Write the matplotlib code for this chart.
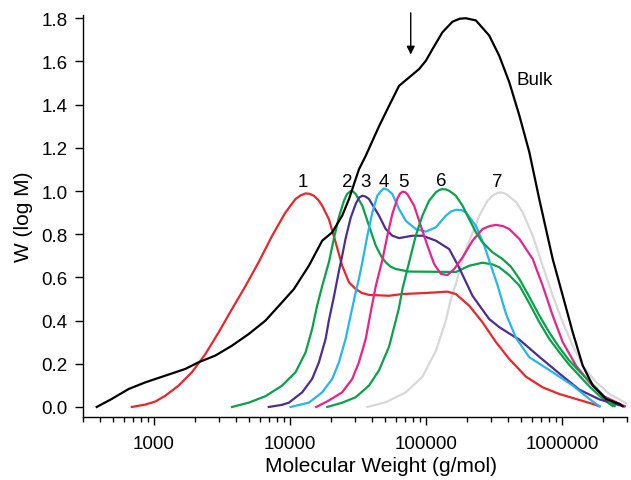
import matplotlib
matplotlib.use("Agg")
import matplotlib.pyplot as plt
from matplotlib.ticker import FixedLocator, LogLocator, NullFormatter, FuncFormatter
import numpy as np

plt.rcParams["font.family"] = ["Liberation Sans", "DejaVu Sans"]

# --------------------------------------------------------------------------- #
# data: log10(M) and W(log M)
# --------------------------------------------------------------------------- #
bulk_logm = [2.580, 2.690, 2.814, 2.937, 3.084, 3.231, 3.329, 3.452, 3.575, 3.698,
             3.821, 3.943, 4.030, 4.140, 4.238, 4.312, 4.385, 4.435, 4.508, 4.558,
             4.656, 4.730, 4.803, 4.877, 4.951, 5.000, 5.049, 5.122, 5.196, 5.250,
             5.295, 5.368, 5.466, 5.540, 5.614, 5.688, 5.761, 5.835, 5.933, 6.007,
             6.080, 6.154, 6.228, 6.326, 6.424, 6.449]
bulk_w = [0.000, 0.037, 0.083, 0.114, 0.145, 0.176, 0.207, 0.238, 0.284, 0.338,
          0.400, 0.485, 0.546, 0.654, 0.770, 0.809, 0.886, 0.963, 1.100, 1.163,
          1.300, 1.395, 1.487, 1.526, 1.565, 1.603, 1.657, 1.735, 1.784, 1.798,
          1.800, 1.790, 1.720, 1.626, 1.503, 1.349, 1.180, 0.960, 0.685, 0.515,
          0.346, 0.191, 0.099, 0.037, 0.014, 0.003]

f1_logm = [2.838, 2.937, 3.010, 3.084, 3.182, 3.280, 3.379, 3.477, 3.575, 3.674,
           3.772, 3.870, 3.968, 4.042, 4.080, 4.116, 4.145, 4.177, 4.210, 4.238,
           4.287, 4.337, 4.385, 4.435, 4.484, 4.530, 4.582, 4.730, 4.828, 5.000,
           5.159, 5.221, 5.319, 5.417, 5.516, 5.614, 5.737, 5.859, 5.982, 6.105,
           6.228, 6.277]
f1_w = [0.000, 0.011, 0.025, 0.052, 0.099, 0.161, 0.245, 0.346, 0.454, 0.560,
        0.672, 0.793, 0.901, 0.963, 0.980, 0.989, 0.987, 0.978, 0.958, 0.932,
        0.870, 0.762, 0.654, 0.577, 0.546, 0.528, 0.519, 0.515, 0.523, 0.528,
        0.534, 0.523, 0.469, 0.392, 0.300, 0.222, 0.140, 0.091, 0.060, 0.037,
        0.014, 0.003]

f2_logm = [3.575, 3.698, 3.821, 3.943, 4.042, 4.116, 4.164, 4.201, 4.238, 4.287,
           4.324, 4.361, 4.398, 4.420, 4.447, 4.465, 4.484, 4.533, 4.582, 4.632,
           4.670, 4.705, 4.740, 4.779, 4.877, 5.074, 5.221, 5.319, 5.417, 5.491,
           5.540, 5.614, 5.688, 5.761, 5.835, 5.908, 5.982, 6.055, 6.129, 6.203,
           6.277, 6.351, 6.375]
f2_w = [0.000, 0.020, 0.050, 0.099, 0.161, 0.253, 0.361, 0.470, 0.560, 0.670,
        0.780, 0.880, 0.955, 0.985, 1.000, 0.998, 0.986, 0.932, 0.839, 0.747,
        0.700, 0.670, 0.650, 0.639, 0.627, 0.626, 0.625, 0.654, 0.668, 0.660,
        0.647, 0.610, 0.562, 0.480, 0.392, 0.315, 0.253, 0.195, 0.145, 0.095,
        0.052, 0.014, 0.004]

f3_logm = [3.845, 3.943, 3.993, 4.091, 4.164, 4.214, 4.263, 4.287, 4.324, 4.361,
           4.385, 4.410, 4.447, 4.484, 4.510, 4.533, 4.555, 4.582, 4.656, 4.705,
           4.754, 4.803, 4.901, 4.975, 5.074, 5.172, 5.245, 5.343, 5.466, 5.540,
           5.614, 5.688, 5.835, 5.982, 6.129, 6.277, 6.424, 6.461]
f3_w = [0.000, 0.010, 0.020, 0.068, 0.130, 0.207, 0.315, 0.400, 0.510, 0.630,
        0.700, 0.780, 0.875, 0.940, 0.970, 0.978, 0.975, 0.963, 0.886, 0.824,
        0.793, 0.782, 0.793, 0.793, 0.770, 0.731, 0.645, 0.515, 0.407, 0.370,
        0.340, 0.312, 0.232, 0.155, 0.080, 0.035, 0.008, 0.004]

f4_logm = [4.005, 4.140, 4.238, 4.312, 4.361, 4.410, 4.447, 4.484, 4.508, 4.533,
           4.570, 4.607, 4.643, 4.670, 4.693, 4.720, 4.754, 4.803, 4.853, 4.926,
           5.000, 5.074, 5.147, 5.185, 5.221, 5.260, 5.295, 5.368, 5.430, 5.479,
           5.528, 5.590, 5.663, 5.761, 5.933, 6.080, 6.203, 6.277]
f4_w = [0.000, 0.020, 0.068, 0.130, 0.207, 0.315, 0.423, 0.531, 0.593, 0.670,
        0.793, 0.901, 0.978, 1.000, 1.012, 1.005, 0.986, 0.917, 0.862, 0.824,
        0.812, 0.832, 0.886, 0.905, 0.913, 0.912, 0.901, 0.839, 0.747, 0.654,
        0.562, 0.430, 0.320, 0.230, 0.161, 0.099, 0.037, 0.003]

f5_logm = [4.194, 4.287, 4.385, 4.459, 4.508, 4.558, 4.595, 4.632, 4.680, 4.717,
           4.754, 4.791, 4.810, 4.828, 4.846, 4.864, 4.914, 4.963, 5.012, 5.061,
           5.111, 5.159, 5.209, 5.270, 5.343, 5.417, 5.470, 5.516, 5.565, 5.614,
           5.688, 5.786, 5.859, 5.933, 6.007, 6.105, 6.203, 6.302, 6.400, 6.461]
f5_w = [0.000, 0.030, 0.068, 0.130, 0.207, 0.315, 0.440, 0.560, 0.680, 0.793,
        0.895, 0.965, 0.988, 0.997, 0.995, 0.986, 0.932, 0.839, 0.747, 0.662,
        0.616, 0.611, 0.639, 0.693, 0.770, 0.824, 0.838, 0.843, 0.838, 0.824,
        0.778, 0.685, 0.562, 0.423, 0.300, 0.191, 0.114, 0.052, 0.022, 0.003]

f6_logm = [4.275, 4.385, 4.484, 4.582, 4.656, 4.730, 4.779, 4.803, 4.828, 4.877,
           4.926, 4.975, 5.024, 5.074, 5.100, 5.122, 5.150, 5.172, 5.221, 5.270,
           5.319, 5.368, 5.417, 5.491, 5.564, 5.625, 5.688, 5.761, 5.835, 5.908,
           5.982, 6.055, 6.129, 6.203, 6.277, 6.351, 6.389]
f6_w = [0.000, 0.020, 0.045, 0.099, 0.170, 0.280, 0.400, 0.460, 0.546, 0.670,
        0.793, 0.886, 0.955, 0.994, 1.005, 1.009, 1.007, 1.001, 0.978, 0.932,
        0.870, 0.809, 0.762, 0.716, 0.685, 0.650, 0.593, 0.510, 0.423, 0.345,
        0.275, 0.215, 0.165, 0.120, 0.072, 0.022, 0.004]

f7_logm = [4.570, 4.705, 4.853, 4.975, 5.074, 5.147, 5.184, 5.221, 5.270, 5.307,
           5.343, 5.393, 5.454, 5.490, 5.528, 5.560, 5.590, 5.663, 5.712, 5.786,
           5.859, 5.933, 6.007, 6.080, 6.154, 6.253, 6.351, 6.474]
f7_w = [0.000, 0.022, 0.068, 0.140, 0.260, 0.400, 0.500, 0.570, 0.680, 0.750,
        0.805, 0.886, 0.955, 0.978, 0.992, 0.993, 0.986, 0.950, 0.901, 0.793,
        0.654, 0.515, 0.392, 0.284, 0.191, 0.114, 0.060, 0.017]

fraction_labels = ["1", "2", "3", "4", "5", "6", "7"]
label_logm = [4.097, 4.420, 4.560, 4.693, 4.833, 5.113, 5.525]
label_w = [1.045, 1.045, 1.045, 1.045, 1.045, 1.050, 1.045]

arrow_logm = 4.889
arrow_w_from, arrow_w_to = 1.825, 1.632

# --------------------------------------------------------------------------- #
# colors
# --------------------------------------------------------------------------- #
COLOR_BULK = "#000000"
COLORS = ["#E8262C", "#0AA14A", "#4B2F8E", "#27B5EC", "#E8238A", "#0AA14A", "#D8D8D8"]

fig = plt.figure(figsize=(6.31, 4.81), dpi=100)
ax = fig.add_axes([0.1311, 0.1316, 0.8621, 0.8351])

series = [(f1_logm, f1_w), (f2_logm, f2_w), (f3_logm, f3_w), (f4_logm, f4_w),
          (f5_logm, f5_w), (f6_logm, f6_w), (f7_logm, f7_w)]
# gray first so it sits underneath
order = [6, 0, 1, 2, 3, 4, 5]
for i in order:
    lm, w = series[i]
    ax.plot(10 ** np.array(lm), w, color=COLORS[i], lw=1.6, solid_joinstyle="round")
ax.plot(10 ** np.array(bulk_logm), bulk_w, color=COLOR_BULK, lw=1.6,
        solid_joinstyle="round")

ax.set_xscale("log")
ax.set_xlim(300, 3e6)
ax.set_ylim(-0.045, 1.815)

ax.xaxis.set_major_locator(FixedLocator([1e3, 1e4, 1e5, 1e6]))
ax.xaxis.set_major_formatter(FuncFormatter(lambda v, p: f"{int(round(v))}"))
ax.xaxis.set_minor_locator(LogLocator(base=10, subs=np.arange(2, 10)))
ax.xaxis.set_minor_formatter(NullFormatter())
ax.set_yticks(np.arange(0, 1.81, 0.2))
ax.yaxis.set_major_formatter(FuncFormatter(lambda v, p: f"{v:.1f}"))

for s in ["top", "right"]:
    ax.spines[s].set_visible(False)
for s in ["left", "bottom"]:
    ax.spines[s].set_linewidth(1.0)

ax.tick_params(axis="both", which="major", length=6, width=1.0, labelsize=13.5,
               direction="out")
ax.tick_params(axis="x", which="major", pad=7)
ax.tick_params(axis="y", which="major", pad=5)
ax.tick_params(axis="x", which="minor", length=3.5, width=1.0, direction="out")

ax.set_xlabel("Molecular Weight (g/mol)", fontsize=15)
ax.set_ylabel("W (log M)", fontsize=15)
ax.xaxis.set_label_coords(0.549, -0.097)
ax.yaxis.set_label_coords(-0.092, 0.5)

for t, lm, w in zip(fraction_labels, label_logm, label_w):
    ax.text(10 ** lm, w, t, fontsize=13.5, ha="center", va="center")
ax.text(10 ** 5.798, 1.518, "Bulk", fontsize=13.5, ha="center", va="center")

ax.annotate("", xy=(10 ** arrow_logm, arrow_w_to), xytext=(10 ** arrow_logm, arrow_w_from),
            arrowprops=dict(arrowstyle="-|>", color="black", lw=1.0,
                            mutation_scale=12, shrinkA=0, shrinkB=0),
            annotation_clip=False)

fig.savefig("out.png", dpi=100)
